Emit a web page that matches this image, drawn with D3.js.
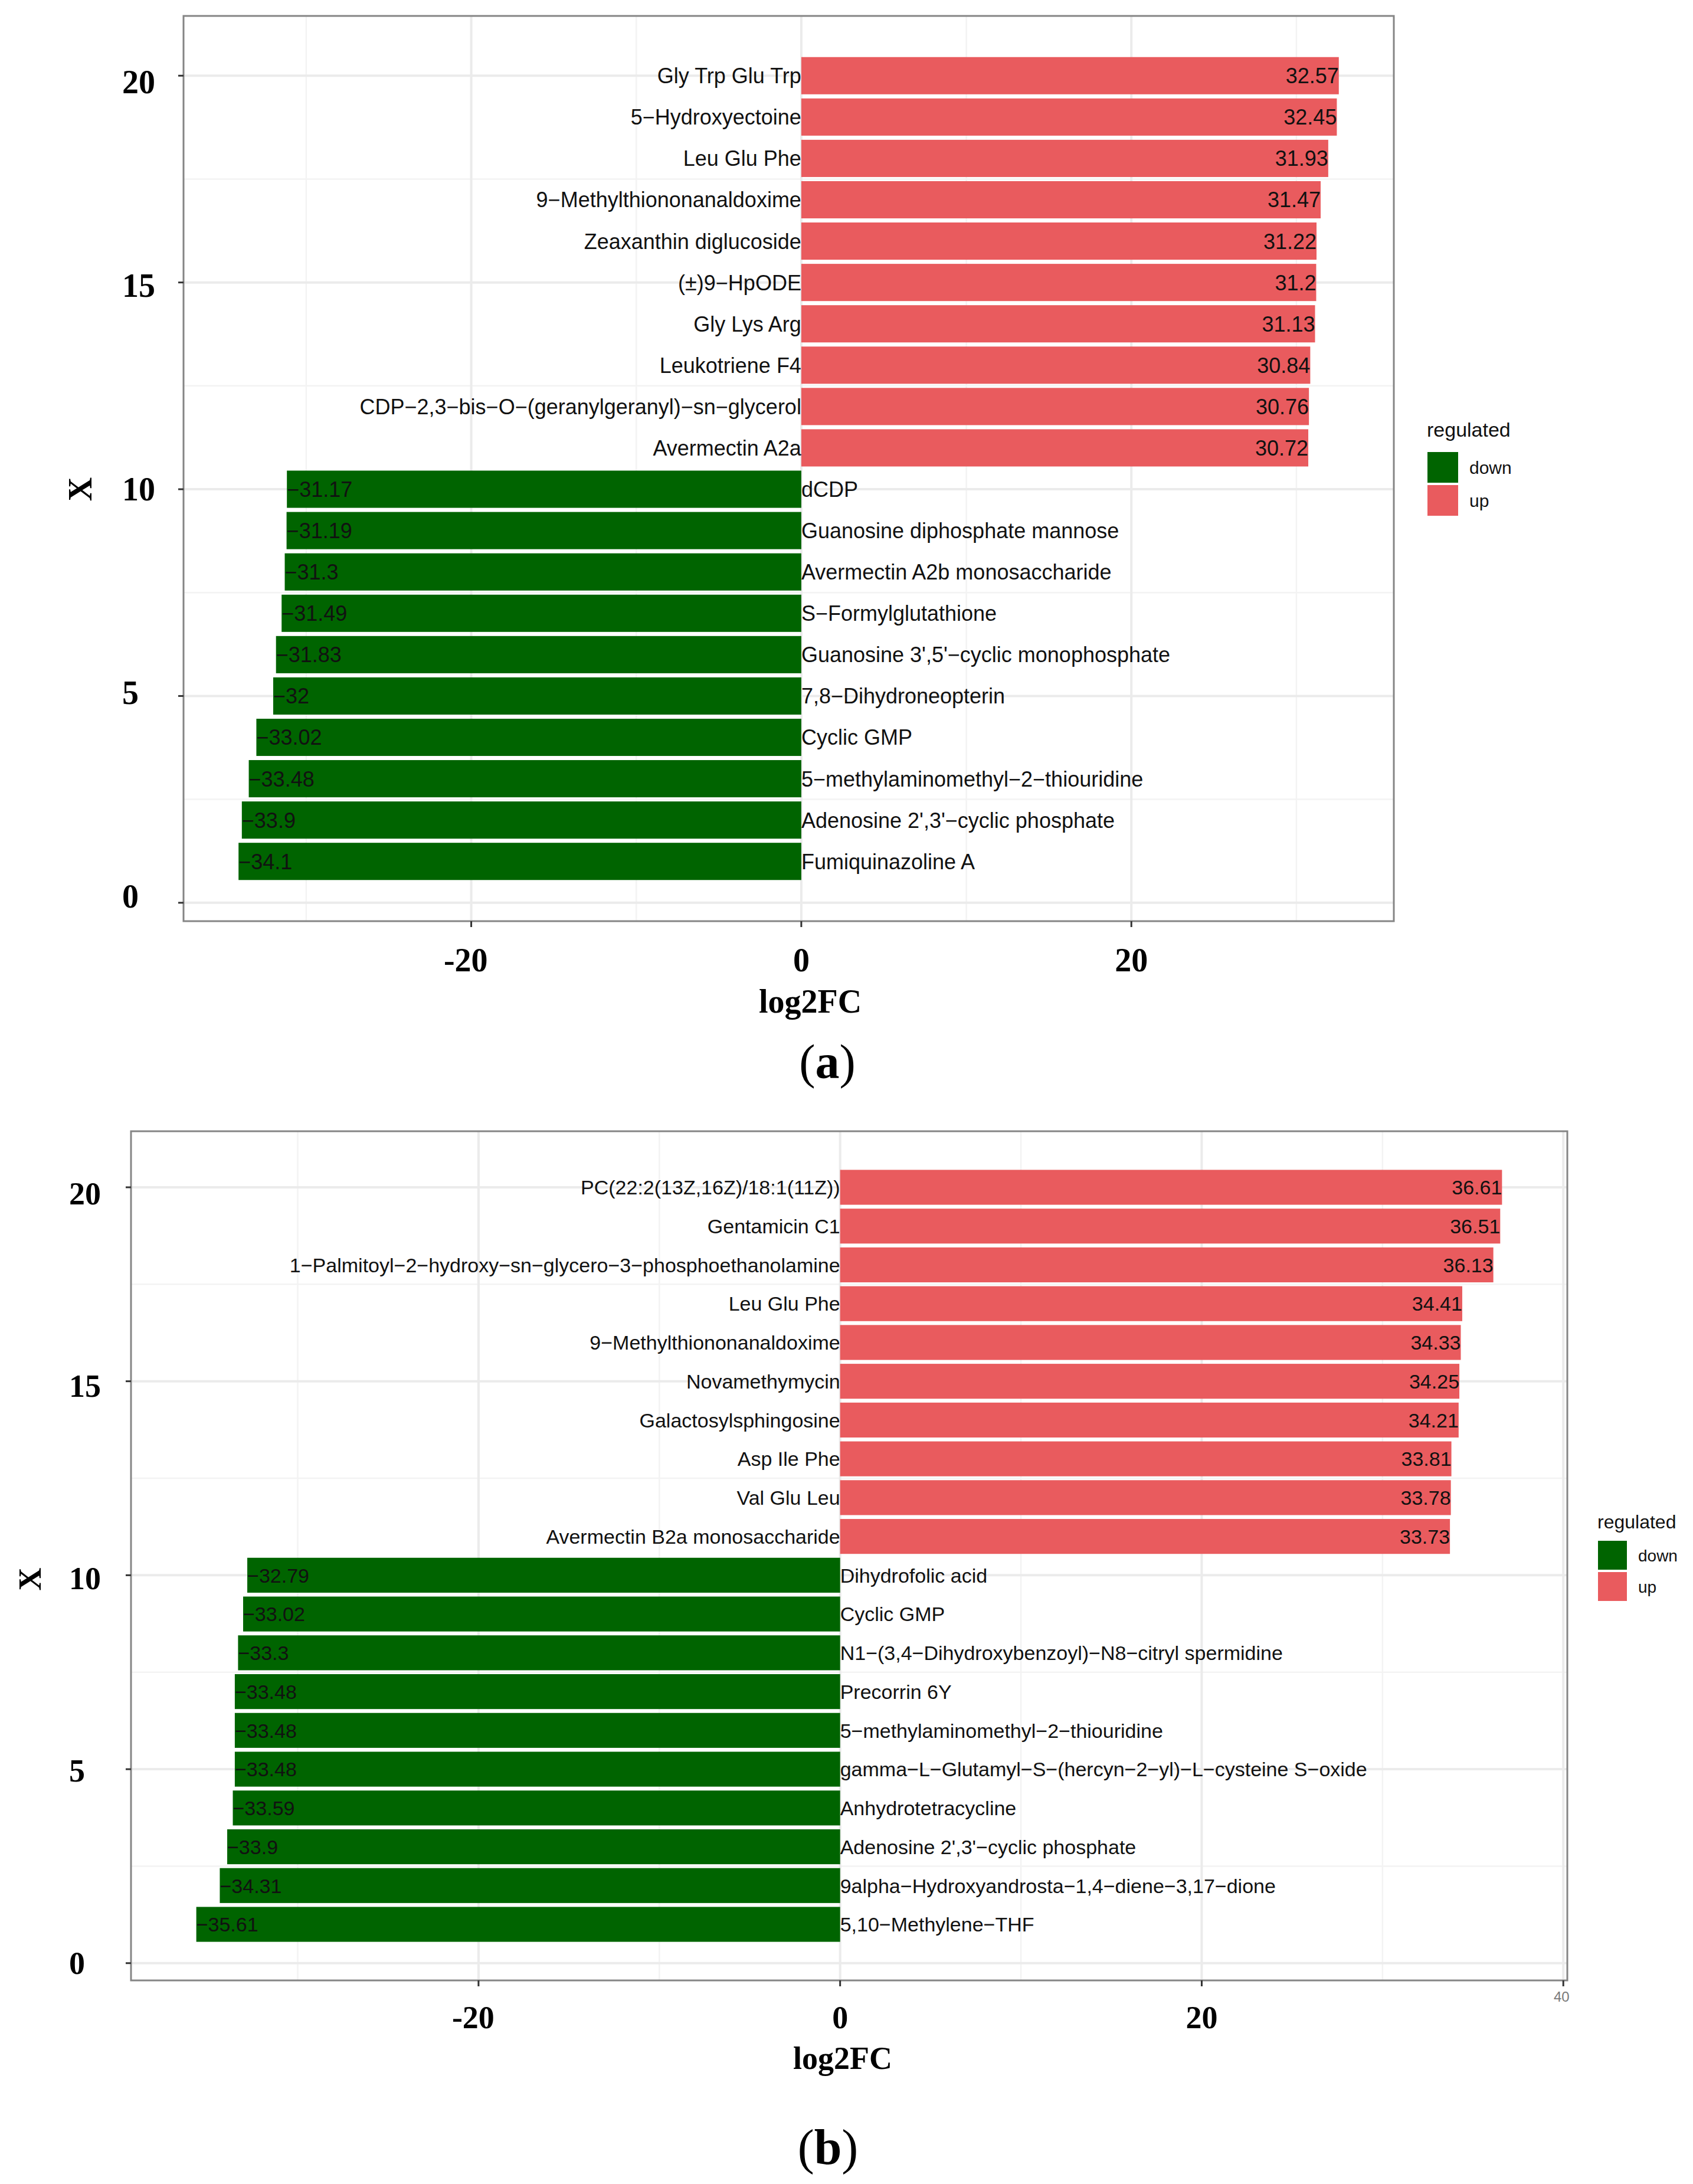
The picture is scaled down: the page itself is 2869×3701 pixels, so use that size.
<!DOCTYPE html>
<html>
<head>
<meta charset="utf-8">
<script src="https://cdn.jsdelivr.net/npm/d3@7"></script>
<style>
  html, body { margin: 0; padding: 0; background: #ffffff; }
  svg { display: block; }
</style>
</head>
<body>
<script>
// ---------------- DATA ----------------
// Panel (a): rank 20 (top) down to rank 1 (bottom)
const namesA = [
  "Gly Trp Glu Trp", "5-Hydroxyectoine", "Leu Glu Phe", "9-Methylthiononanaldoxime",
  "Zeaxanthin diglucoside", "(\u00b1)9-HpODE", "Gly Lys Arg", "Leukotriene F4",
  "CDP-2,3-bis-O-(geranylgeranyl)-sn-glycerol", "Avermectin A2a",
  "dCDP", "Guanosine diphosphate mannose", "Avermectin A2b monosaccharide",
  "S-Formylglutathione", "Guanosine 3',5'-cyclic monophosphate", "7,8-Dihydroneopterin",
  "Cyclic GMP", "5-methylaminomethyl-2-thiouridine", "Adenosine 2',3'-cyclic phosphate",
  "Fumiquinazoline A"
];
const valuesA = [
  32.57, 32.45, 31.93, 31.47, 31.22, 31.2, 31.13, 30.84, 30.76, 30.72,
  -31.17, -31.19, -31.3, -31.49, -31.83, -32, -33.02, -33.48, -33.9, -34.1
];

// Panel (b)
const namesB = [
  "PC(22:2(13Z,16Z)/18:1(11Z))", "Gentamicin C1",
  "1-Palmitoyl-2-hydroxy-sn-glycero-3-phosphoethanolamine", "Leu Glu Phe",
  "9-Methylthiononanaldoxime", "Novamethymycin", "Galactosylsphingosine",
  "Asp Ile Phe", "Val Glu Leu", "Avermectin B2a monosaccharide",
  "Dihydrofolic acid", "Cyclic GMP", "N1-(3,4-Dihydroxybenzoyl)-N8-citryl spermidine",
  "Precorrin 6Y", "5-methylaminomethyl-2-thiouridine",
  "gamma-L-Glutamyl-S-(hercyn-2-yl)-L-cysteine S-oxide", "Anhydrotetracycline",
  "Adenosine 2',3'-cyclic phosphate", "9alpha-Hydroxyandrosta-1,4-diene-3,17-dione",
  "5,10-Methylene-THF"
];
const valuesB = [
  36.61, 36.51, 36.13, 34.41, 34.33, 34.25, 34.21, 33.81, 33.78, 33.73,
  -32.79, -33.02, -33.3, -33.48, -33.48, -33.48, -33.59, -33.9, -34.31, -35.61
];

const xTicksA = [-20, 0, 20];
const xTicksB = [-20, 0, 20];
const xTicksBSmall = [40];        // faint default tick label visible in panel (b)
const yTicks = [0, 5, 10, 15, 20];
const regulatedLevels = ["down", "up"];
const panelLetters = ["a", "b"];
const axisTitleX = "log2FC";
const axisTitleY = "X";
const legendTitle = "regulated";

// ---------------- STYLE / LAYOUT ----------------
const W = 2869, H = 3701;
const colorScale = d3.scaleOrdinal().domain(regulatedLevels).range(["#006400", "#E95B5E"]);
const SANS = "'Liberation Sans', Arial, Helvetica, sans-serif";
const SERIF = "'Liberation Serif', 'Times New Roman', Times, serif";
const minus = s => String(s).replace(/-/g, "\u2212");

const panels = [
  { names: namesA, values: valuesA, xTicks: xTicksA, small: [],
    rect: { x0: 311, x1: 2362, y0: 27, y1: 1561 },
    labelFont: 36, tickFont: 56, yTickX: 207, xTickDy: 85,
    yLab: { anchor: 10, factor: 0.985 },
    yTitle: { x: 135, y: 829 }, xTitle: { x: 1373, y: 1716 },
    letter: { x: 1402, y: 1827, size: 82 },
    legend: { x: 2418, titleY: 740, key: 52, keyY: 766, gap: 4, titleSize: 34, labelSize: 30 } },
  { names: namesB, values: valuesB, xTicks: xTicksB, small: xTicksBSmall,
    rect: { x0: 222, x1: 2656, y0: 1917, y1: 3356 },
    labelFont: 34, tickFont: 54, yTickX: 117, xTickDy: 81,
    yLab: { anchor: 0, factor: 0.992 },
    yTitle: { x: 50, y: 2676 }, xTitle: { x: 1428, y: 3506 },
    letter: { x: 1403, y: 3667, size: 84 },
    legend: { x: 2707, titleY: 2590, key: 49, keyY: 2611, gap: 4, titleSize: 32, labelSize: 28 } }
];

const svg = d3.select("body").append("svg")
  .attr("width", W).attr("height", H)
  .attr("viewBox", `0 0 ${W} ${H}`);
svg.append("rect").attr("width", W).attr("height", H).attr("fill", "#ffffff");

panels.forEach((p, pi) => {
  const n = p.values.length;
  const data = p.values.map((v, i) => ({
    name: p.names[i], value: v, rank: n - i, reg: v < 0 ? "down" : "up"
  }));
  const lo = Math.min(0, d3.min(p.values)), hi = Math.max(0, d3.max(p.values));
  const padX = (hi - lo) * 0.05;
  const x = d3.scaleLinear().domain([lo - padX, hi + padX]).range([p.rect.x0, p.rect.x1]);
  const yLo = 1 - 0.45, yHi = n + 0.45, padY = (yHi - yLo) * 0.05;
  const y = d3.scaleLinear().domain([yLo - padY, yHi + padY]).range([p.rect.y1, p.rect.y0]);

  const g = svg.append("g");
  const pw = p.rect.x1 - p.rect.x0, ph = p.rect.y1 - p.rect.y0;

  // grid
  const grid = g.append("g");
  const minorX = [];
  const allX = d3.range(-40, 41, 10);
  allX.forEach(t => { if (t % 20 !== 0) minorX.push(t); });
  const majorX = d3.range(-40, 41, 20);
  const inX = t => t > x.domain()[0] && t < x.domain()[1];
  const minorY = [2.5, 7.5, 12.5, 17.5];
  grid.selectAll(".mnx").data(minorX.filter(inX)).join("line")
    .attr("x1", d => x(d)).attr("x2", d => x(d)).attr("y1", p.rect.y0).attr("y2", p.rect.y1)
    .attr("stroke", "#F3F3F3").attr("stroke-width", 2.5);
  grid.selectAll(".mny").data(minorY).join("line")
    .attr("x1", p.rect.x0).attr("x2", p.rect.x1).attr("y1", d => y(d)).attr("y2", d => y(d))
    .attr("stroke", "#F3F3F3").attr("stroke-width", 2.5);
  grid.selectAll(".mjx").data(majorX.filter(inX)).join("line")
    .attr("x1", d => x(d)).attr("x2", d => x(d)).attr("y1", p.rect.y0).attr("y2", p.rect.y1)
    .attr("stroke", "#EBEBEB").attr("stroke-width", 4);
  grid.selectAll(".mjy").data(yTicks).join("line")
    .attr("x1", p.rect.x0).attr("x2", p.rect.x1).attr("y1", d => y(d)).attr("y2", d => y(d))
    .attr("stroke", "#EBEBEB").attr("stroke-width", 4);

  // bars
  g.append("g").selectAll("rect").data(data).join("rect")
    .attr("x", d => x(Math.min(0, d.value)))
    .attr("width", d => Math.abs(x(d.value) - x(0)))
    .attr("y", d => y(d.rank + 0.45))
    .attr("height", d => y(d.rank - 0.45) - y(d.rank + 0.45))
    .attr("fill", d => colorScale(d.reg));

  // name labels at zero
  g.append("g").selectAll("text").data(data).join("text")
    .attr("x", x(0))
    .attr("y", d => y(d.rank))
    .attr("dy", "0.36em")
    .attr("text-anchor", d => d.value < 0 ? "start" : "end")
    .attr("font-family", SANS).attr("font-size", p.labelFont).attr("fill", "#111")
    .text(d => minus(d.name));

  // value labels at bar ends
  g.append("g").selectAll("text").data(data).join("text")
    .attr("x", d => x(d.value))
    .attr("y", d => y(d.rank))
    .attr("dy", "0.36em")
    .attr("text-anchor", d => d.value < 0 ? "start" : "end")
    .attr("font-family", SANS).attr("font-size", p.labelFont).attr("fill", "#111")
    .text(d => minus(d.value));

  // panel border
  g.append("rect")
    .attr("x", p.rect.x0).attr("y", p.rect.y0).attr("width", pw).attr("height", ph)
    .attr("fill", "none").attr("stroke", "#858585").attr("stroke-width", 3);

  // ticks
  const tickX = p.xTicks.concat(p.small);
  g.append("g").selectAll("line").data(tickX).join("line")
    .attr("x1", d => x(d)).attr("x2", d => x(d))
    .attr("y1", p.rect.y1).attr("y2", p.rect.y1 + 10)
    .attr("stroke", "#333").attr("stroke-width", 3);
  g.append("g").selectAll("line").data(yTicks).join("line")
    .attr("x1", p.rect.x0 - 9).attr("x2", p.rect.x0)
    .attr("y1", d => y(d)).attr("y2", d => y(d))
    .attr("stroke", "#333").attr("stroke-width", 3);

  // x tick labels (bold serif)
  g.append("g").selectAll("text").data(p.xTicks).join("text")
    .attr("x", d => x(d))
    .attr("dx", d => d < 0 ? "-0.167em" : "0")
    .attr("y", p.rect.y1 + p.xTickDy)
    .attr("text-anchor", "middle")
    .attr("font-family", SERIF).attr("font-weight", "bold").attr("font-size", p.tickFont)
    .attr("fill", "#000")
    .text(d => String(d));
  // faint default tick label
  g.append("g").selectAll("text").data(p.small).join("text")
    .attr("x", d => x(d) - 3)
    .attr("y", p.rect.y1 + 36)
    .attr("text-anchor", "middle")
    .attr("font-family", SANS).attr("font-size", 24).attr("fill", "#7a7a7a")
    .text(d => String(d));

  // y tick labels (left aligned, overlaid with slightly tighter spacing)
  const ya = y(p.yLab.anchor);
  g.append("g").selectAll("text").data(yTicks).join("text")
    .attr("x", p.yTickX)
    .attr("y", d => ya + (y(d) - ya) * p.yLab.factor)
    .attr("dy", "0.338em")
    .attr("text-anchor", "start")
    .attr("font-family", SERIF).attr("font-weight", "bold").attr("font-size", p.tickFont)
    .attr("fill", "#000")
    .text(d => String(d));

  // axis titles
  g.append("text")
    .attr("transform", `translate(${p.yTitle.x},${p.yTitle.y}) rotate(-90)`)
    .attr("text-anchor", "middle").attr("dy", "0.35em")
    .attr("font-family", SERIF).attr("font-weight", "bold").attr("font-size", p.tickFont)
    .text(axisTitleY);
  g.append("text")
    .attr("x", p.xTitle.x).attr("y", p.xTitle.y)
    .attr("text-anchor", "middle")
    .attr("font-family", SERIF).attr("font-weight", "bold").attr("font-size", p.tickFont)
    .text(axisTitleX);

  // panel letter
  const lt = g.append("text")
    .attr("x", p.letter.x).attr("y", p.letter.y)
    .attr("text-anchor", "middle")
    .attr("font-family", SERIF).attr("font-size", p.letter.size);
  lt.append("tspan").text("(");
  lt.append("tspan").attr("font-weight", "bold").text(panelLetters[pi]);
  lt.append("tspan").text(")");

  // legend
  const L = p.legend;
  const lg = g.append("g");
  lg.append("text")
    .attr("x", L.x).attr("y", L.titleY)
    .attr("font-family", SANS).attr("font-size", L.titleSize).attr("fill", "#111")
    .text(legendTitle);
  const items = lg.selectAll("g.item").data(regulatedLevels).join("g");
  items.append("rect")
    .attr("x", L.x + 1)
    .attr("y", (d, i) => L.keyY + i * (L.key + L.gap))
    .attr("width", L.key).attr("height", L.key)
    .attr("fill", d => colorScale(d));
  items.append("text")
    .attr("x", L.x + L.key + 20)
    .attr("y", (d, i) => L.keyY + i * (L.key + L.gap) + L.key / 2)
    .attr("dy", "0.36em")
    .attr("font-family", SANS).attr("font-size", L.labelSize).attr("fill", "#111")
    .text(d => d);
});
</script>
</body>
</html>
